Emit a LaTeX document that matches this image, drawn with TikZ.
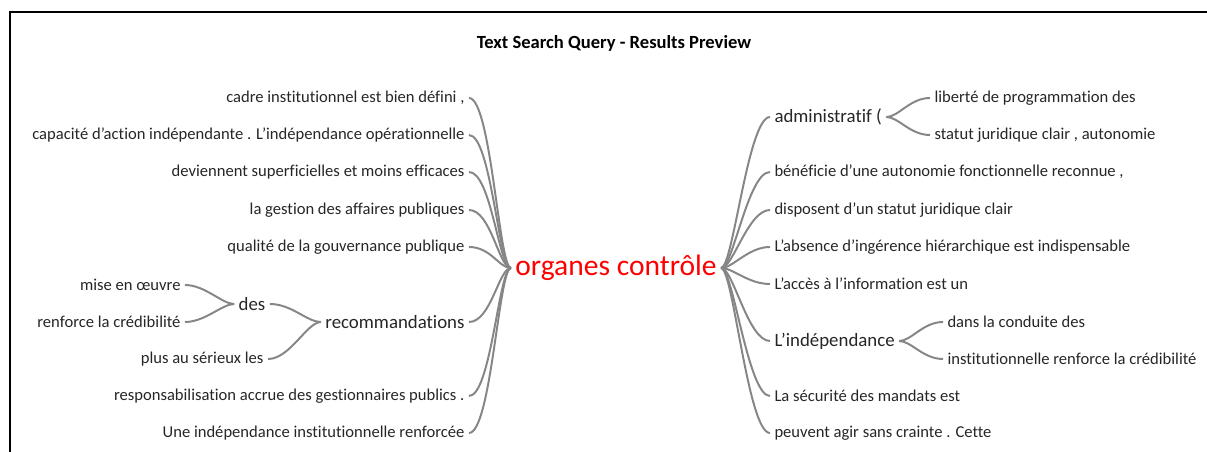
\documentclass[tikz,border=0pt]{standalone}
\usepackage{fontspec}
\setmainfont{Carlito}[Ligatures=NoCommon]
\begin{document}
\begin{tikzpicture}[x=0.025cm, y=-0.025cm]
        \tikzstyle{leaf} = [inner xsep=3pt, inner ysep=1pt, font=\fontsize{11.8}{14}\selectfont, text=black!85]
        \tikzstyle{lleaf} = [leaf, anchor=east]
        \tikzstyle{rleaf} = [leaf, anchor=west]
        \tikzstyle{hub} = [font=\fontsize{13.4}{16}\selectfont]
        \tikzstyle{root} = [text=red, font=\fontsize{21}{24}\selectfont, inner xsep=3pt]
        \tikzstyle{branch} = [draw=gray!95, line width=1.4pt]

        \useasboundingbox (0,0) rectangle (1207,452);
        \draw [line width=1.2pt] (10,452) -- (10,12) -- (1207,12);
        \node [font=\bfseries\fontsize{13.2}{15}\selectfont] (title) at (614,43) {Text Search Query - Results Preview};

        \node [root] (root) at (616,268) {organes contrôle};

        \node [lleaf] (l1) at (469,98) {cadre institutionnel est bien défini ,};
        \node [lleaf] (l2) at (469,135) {capacité d’action indépendante . L’indépendance opérationnelle};
        \node [lleaf] (l3) at (469,172) {deviennent superficielles et moins efficaces};
        \node [lleaf] (l4) at (469,210) {la gestion des affaires publiques};
        \node [lleaf] (l5) at (469,247) {qualité de la gouvernance publique};
        \node [lleaf, hub] (rec) at (469,322) {recommandations};
        \node [lleaf] (l7) at (469,396) {responsabilisation accrue des gestionnaires publics .};
        \node [lleaf] (l8) at (469,433) {Une indépendance institutionnelle renforcée};

        \node [leaf, hub] (des) at (252,304) {des};
        \node [lleaf] (serieux) at (268,359) {plus au sérieux les};
        \node [lleaf] (oeuvre) at (185,285) {mise en œuvre};
        \node [lleaf] (credib) at (185,322) {renforce la crédibilité};

        \node [rleaf, hub] (r1) at (770,117) {administratif (};
        \node [rleaf] (r2) at (770,172) {bénéficie d’une autonomie fonctionnelle reconnue ,};
        \node [rleaf] (r3) at (770,210) {disposent d’un statut juridique clair};
        \node [rleaf] (r4) at (770,247) {L’absence d’ingérence hiérarchique est indispensable};
        \node [rleaf] (r5) at (770,284) {L’accès à l’information est un};
        \node [rleaf, hub] (r6) at (770,341) {L’indépendance};
        \node [rleaf] (r7) at (770,396) {La sécurité des mandats est};
        \node [rleaf] (r8) at (770,433) {peuvent agir sans crainte . Cette};

        \node [rleaf] (liberte) at (930,98) {liberté de programmation des};
        \node [rleaf] (statut) at (930,135) {statut juridique clair , autonomie};
        \node [rleaf] (conduite) at (943,322) {dans la conduite des};
        \node [rleaf] (institu) at (943,359) {institutionnelle renforce la crédibilité};

        \draw [branch] (root.west) .. controls +(-12,0) and +(22,0) .. (l1.east);
        \draw [branch] (root.west) .. controls +(-12,0) and +(22,0) .. (l2.east);
        \draw [branch] (root.west) .. controls +(-12,0) and +(22,0) .. (l3.east);
        \draw [branch] (root.west) .. controls +(-12,0) and +(22,0) .. (l4.east);
        \draw [branch] (root.west) .. controls +(-12,0) and +(22,0) .. (l5.east);
        \draw [branch] (root.west) .. controls +(-12,0) and +(22,0) .. (rec.east);
        \draw [branch] (root.west) .. controls +(-12,0) and +(22,0) .. (l7.east);
        \draw [branch] (root.west) .. controls +(-12,0) and +(22,0) .. (l8.east);

        \draw [branch] (rec.west) .. controls +(-14,0) and +(22,0) .. (des.east);
        \draw [branch] (rec.west) .. controls +(-14,0) and +(22,0) .. (serieux.east);
        \draw [branch] (des.west) .. controls +(-12,0) and +(20,0) .. (oeuvre.east);
        \draw [branch] (des.west) .. controls +(-12,0) and +(20,0) .. (credib.east);

        \draw [branch] (root.east) .. controls +(12,0) and +(-22,0) .. (r1.west);
        \draw [branch] (root.east) .. controls +(12,0) and +(-22,0) .. (r2.west);
        \draw [branch] (root.east) .. controls +(12,0) and +(-22,0) .. (r3.west);
        \draw [branch] (root.east) .. controls +(12,0) and +(-22,0) .. (r4.west);
        \draw [branch] (root.east) .. controls +(12,0) and +(-22,0) .. (r5.west);
        \draw [branch] (root.east) .. controls +(12,0) and +(-22,0) .. (r6.west);
        \draw [branch] (root.east) .. controls +(12,0) and +(-22,0) .. (r7.west);
        \draw [branch] (root.east) .. controls +(12,0) and +(-22,0) .. (r8.west);

        \draw [branch] (r1.east) .. controls +(12,0) and +(-20,0) .. (liberte.west);
        \draw [branch] (r1.east) .. controls +(12,0) and +(-20,0) .. (statut.west);
        \draw [branch] (r6.east) .. controls +(12,0) and +(-20,0) .. (conduite.west);
        \draw [branch] (r6.east) .. controls +(12,0) and +(-20,0) .. (institu.west);
    \end{tikzpicture}
\end{document}
